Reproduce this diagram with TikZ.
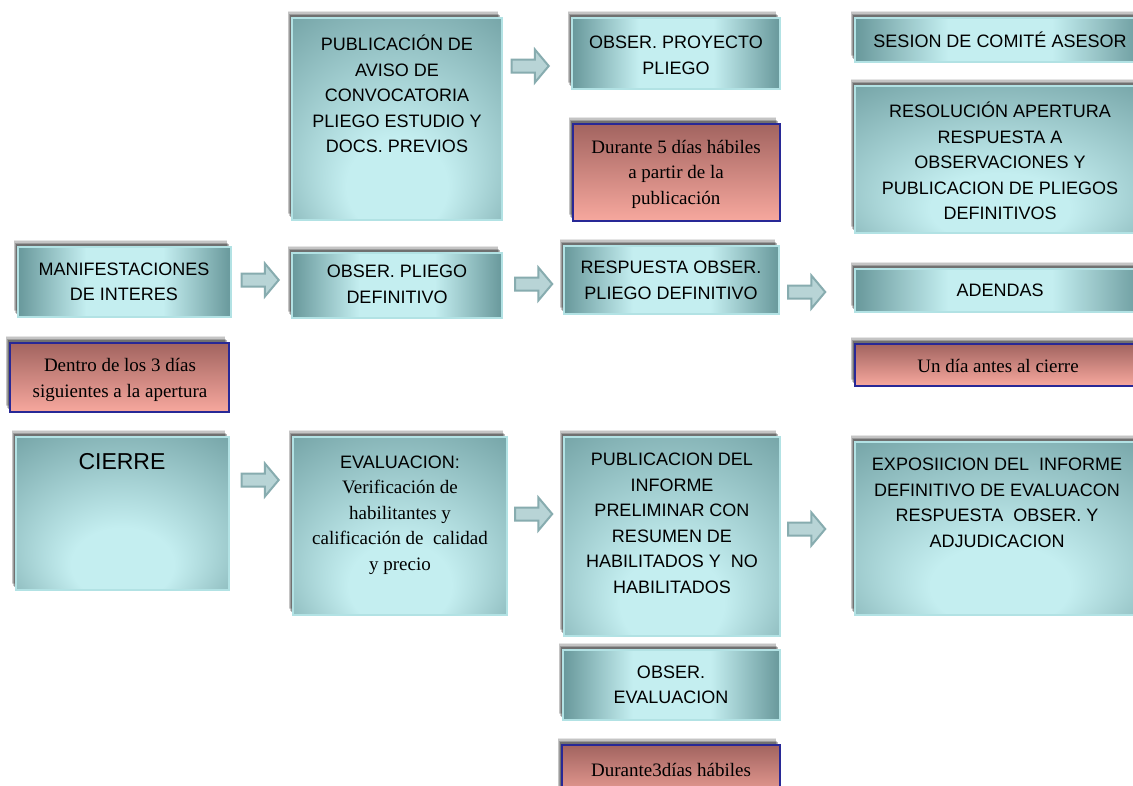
\documentclass[tikz,border=0pt]{standalone}
\usepackage{fontspec}
\setmainfont{Liberation Serif}
\newfontfamily\arialf{Liberation Sans}
\usetikzlibrary{shapes.arrows,shadows,fit}

\definecolor{tdark}{RGB}{104,152,155}
\definecolor{tlight}{RGB}{196,238,240}
\definecolor{tborder}{RGB}{178,226,228}
\definecolor{ptop}{RGB}{162,100,96}
\definecolor{pbot}{RGB}{247,168,158}
\definecolor{pborder}{RGB}{40,40,150}
\definecolor{afill}{RGB}{184,212,214}
\definecolor{adraw}{RGB}{135,172,175}

\pgfdeclareradialshading{tealr}{\pgfpoint{0bp}{-22bp}}{color(0bp)=(tlight); color(12bp)=(tlight); color(44bp)=(tdark); color(50bp)=(tdark)}
\pgfdeclarehorizontalshading{tealh}{100bp}{color(0bp)=(tdark); color(25bp)=(tdark); color(41bp)=(tlight); color(59bp)=(tlight); color(75bp)=(tdark); color(100bp)=(tdark)}

\tikzset{
  shadowed/.style={
    general shadow={shadow xshift=-4.5pt, shadow yshift=7.5pt, fill=black, opacity=.1},
    general shadow={shadow xshift=-4pt, shadow yshift=6pt, fill=black, opacity=.14},
    general shadow={shadow xshift=-3pt, shadow yshift=4.5pt, fill=black, opacity=.2},
    general shadow={shadow xshift=-2pt, shadow yshift=3pt, fill=black, opacity=.28}},
  tbase/.style={rectangle, inner sep=0pt, draw=tborder, line width=1.5pt, shadowed},
  tealtall/.style={tbase, shading=tealr},
  tealflat/.style={tbase, shading=tealh},
  pinkbox/.style={rectangle, inner sep=0pt, draw=pborder, line width=1.5pt,
    top color=ptop, bottom color=pbot, shadowed},
  sans/.style={font=\arialf\fontsize{18}{25.5}\selectfont, align=center, inner sep=0pt, text=black},
  serif/.style={font=\fontsize{19}{25.5}\selectfont, align=center, inner sep=0pt, text=black},
  blockarrow/.style={single arrow, draw=adraw, fill=afill, line width=2pt,
    minimum height=37pt, minimum width=31pt, single arrow head extend=10pt,
    single arrow tip angle=100, inner xsep=0pt, inner ysep=5.5pt}
}

\begin{document}
\begin{tikzpicture}[x=1pt, y=-1pt]
\fill[white] (0,0) rectangle (1133,785);
\useasboundingbox (0,0) rectangle (1133,785);
\clip (0,0) rectangle (1133,785);

% ---- boxes ----
\node[tealtall, fit={(292,18) (502,220)}] (pub) {};
\node[tealflat, fit={(572,18) (780,89)}] (obsproy) {};
\node[pinkbox, fit={(573,124) (780,221)}] (cinco) {};
\node[tealflat, fit={(855,18) (1145,62)}] (sesion) {};
\node[tealtall, fit={(855,86) (1145,233)}] (resol) {};

\node[tealflat, fit={(18,247) (231,317)}] (manif) {};
\node[pinkbox, fit={(10,343) (229,412)}] (tres) {};
\node[tealflat, fit={(292,253) (502,318)}] (obspli) {};
\node[tealflat, fit={(564,246) (779,314)}] (resp) {};
\node[tealflat, fit={(855,269) (1145,312)}] (adendas) {};
\node[pinkbox, fit={(855,344) (1145,386)}] (undia) {};

\node[tealtall, fit={(16,437) (229,590)}] (cierre) {};
\node[tealtall, fit={(293,437) (507,615)}] (eval) {};
\node[tealtall, fit={(564,437) (780,636)}] (pubinf) {};
\node[tealtall, fit={(855,442) (1145,615)}] (expo) {};
\node[tealflat, fit={(563,650) (780,720)}] (obseval) {};
\node[pinkbox, fit={(562,745) (780,805)}] (durante) {};

% ---- texts ----
\node[sans] (pub-t) at (397,94) {PUBLICACIÓN DE\\AVISO DE\\CONVOCATORIA\\PLIEGO ESTUDIO Y\\DOCS. PREVIOS};
\node[sans] (obsproy-t) at (676,55.5) {OBSER. PROYECTO\\PLIEGO};
\node[serif] (cinco-t) at (676,174) {Durante 5 días hábiles\\a partir de la\\publicación};
\node[sans] (sesion-t) at (1000,40) {SESION DE COMITÉ ASESOR};
\node[sans] (resol-t) at (1000,161) {RESOLUCIÓN APERTURA\\RESPUESTA A\\OBSERVACIONES Y\\PUBLICACION DE PLIEGOS\\DEFINITIVOS};

\node[sans] (manif-t) at (124,282) {MANIFESTACIONES\\DE INTERES};
\node[serif] (tres-t) at (120,380) {Dentro de los 3 días\\siguientes a la apertura};
\node[sans] (obspli-t) at (397,284.5) {OBSER. PLIEGO\\DEFINITIVO};
\node[sans] (resp-t) at (671,280.5) {RESPUESTA OBSER.\\PLIEGO DEFINITIVO};
\node[sans] (adendas-t) at (1000,290) {ADENDAS};
\node[serif] (undia-t) at (998,366) {Un día antes al cierre};

\node[sans, font=\arialf\fontsize{23}{26}\selectfont] (cierre-t) at (122,462) {CIERRE};
\node[serif] (eval-t) at (400,515) {{\arialf\fontsize{18}{25.5}\selectfont EVALUACION:}\\Verificación de\\habilitantes y\\calificación de~ calidad\\y precio};
\node[sans] (pubinf-t) at (672,523.5) {PUBLICACION DEL\\INFORME\\PRELIMINAR CON\\RESUMEN DE\\HABILITADOS Y~ NO\\HABILITADOS};
\node[sans] (expo-t) at (997,503) {EXPOSIICION DEL~ INFORME\\DEFINITIVO DE EVALUACON\\RESPUESTA~ OBSER. Y\\ADJUDICACION};
\node[sans] (obseval-t) at (671,685) {OBSER.\\EVALUACION};
\node[serif] (durante-t) at (671,770) {Durante3días hábiles};

% ---- block arrows ----
\node[blockarrow] (a1) at (527.5,66) {};
\node[blockarrow] (a2) at (257.5,280) {};
\node[blockarrow] (a3) at (531,284) {};
\node[blockarrow] (a4) at (804,292) {};
\node[blockarrow] (a5) at (257.5,480) {};
\node[blockarrow] (a6) at (531,514) {};
\node[blockarrow] (a7) at (804,529) {};
\end{tikzpicture}
\end{document}
